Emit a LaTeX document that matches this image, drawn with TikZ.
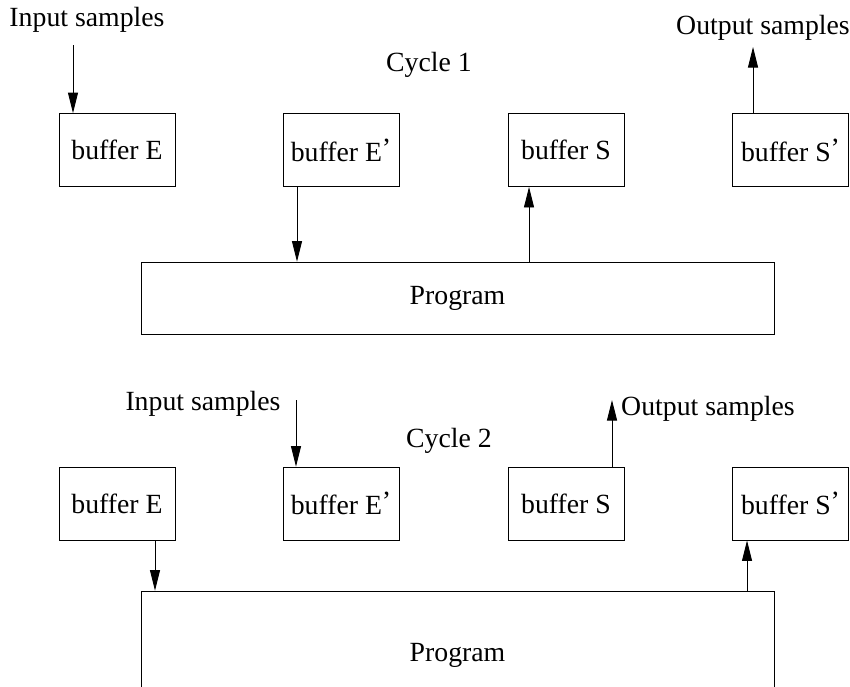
\documentclass[tikz,border=0pt]{standalone}
\usepackage{fontspec}
\setmainfont{Liberation Serif}
\usetikzlibrary{arrows.meta}
\newcommand{\bufprime}{\raisebox{.3ex}{’}}

\begin{document}
\begin{tikzpicture}[x=0.2mm,y=-0.2mm,>={Triangle[length=4.1mm,width=2mm]},
    font=\fontsize{15.8}{19}\selectfont,
    buf/.style={draw,line width=.5pt,minimum width=23.2mm,minimum height=14.6mm,inner sep=0pt},
    prog/.style={draw,line width=.5pt,minimum width=126.6mm,inner sep=0pt},
    flow/.style={->,line width=.5pt}]
  \useasboundingbox (0,0) rectangle (850,686);
  % cycle 1
  \node (in1) at (87,20) {Input samples};
  \node (cyc1) at (429,65) {Cycle 1};
  \node (out1) at (763,28) {Output samples};
  \node[buf] (e1) at (117,150) {buffer E};
  \node[buf] (ep1) at (341,150) {buffer E\bufprime};
  \node[buf] (s1) at (566,150) {buffer S};
  \node[buf] (sp1) at (790.5,150) {buffer S\bufprime};
  \node[prog,minimum height=14.4mm] (prog1) at (457.5,298) {Program};
  \coordinate (a1) at (73,45);
  \coordinate (a2) at (297,0);
  \coordinate (a3) at (529,0);
  \coordinate (a4) at (753,47);
  \draw[flow] (a1) -- (a1 |- e1.north);
  \draw[flow] (a2 |- ep1.south) -- (a2 |- prog1.north);
  \draw[flow] (a3 |- prog1.north) -- (a3 |- s1.south);
  \draw[flow] (a4 |- sp1.north) -- (a4);
  % cycle 2
  \node (in2) at (203,404) {Input samples};
  \node (cyc2) at (449,441) {Cycle 2};
  \node (out2) at (708,409) {Output samples};
  \node[buf] (e2) at (117,503.5) {buffer E};
  \node[buf] (ep2) at (341,503.5) {buffer E\bufprime};
  \node[buf] (s2) at (566,503.5) {buffer S};
  \node[buf] (sp2) at (790.5,503.5) {buffer S\bufprime};
  \node[prog,minimum height=25.6mm] (prog2) at (457.5,655) {Program};
  \coordinate (b1) at (296,400);
  \coordinate (b2) at (612,400);
  \coordinate (b3) at (155,0);
  \coordinate (b4) at (747,0);
  \draw[flow] (b1) -- (b1 |- ep2.north);
  \draw[flow] (b2 |- s2.north) -- (b2);
  \draw[flow] (b3 |- e2.south) -- (b3 |- prog2.north);
  \draw[flow] (b4 |- prog2.north) -- (b4 |- sp2.south);
\end{tikzpicture}
\end{document}
